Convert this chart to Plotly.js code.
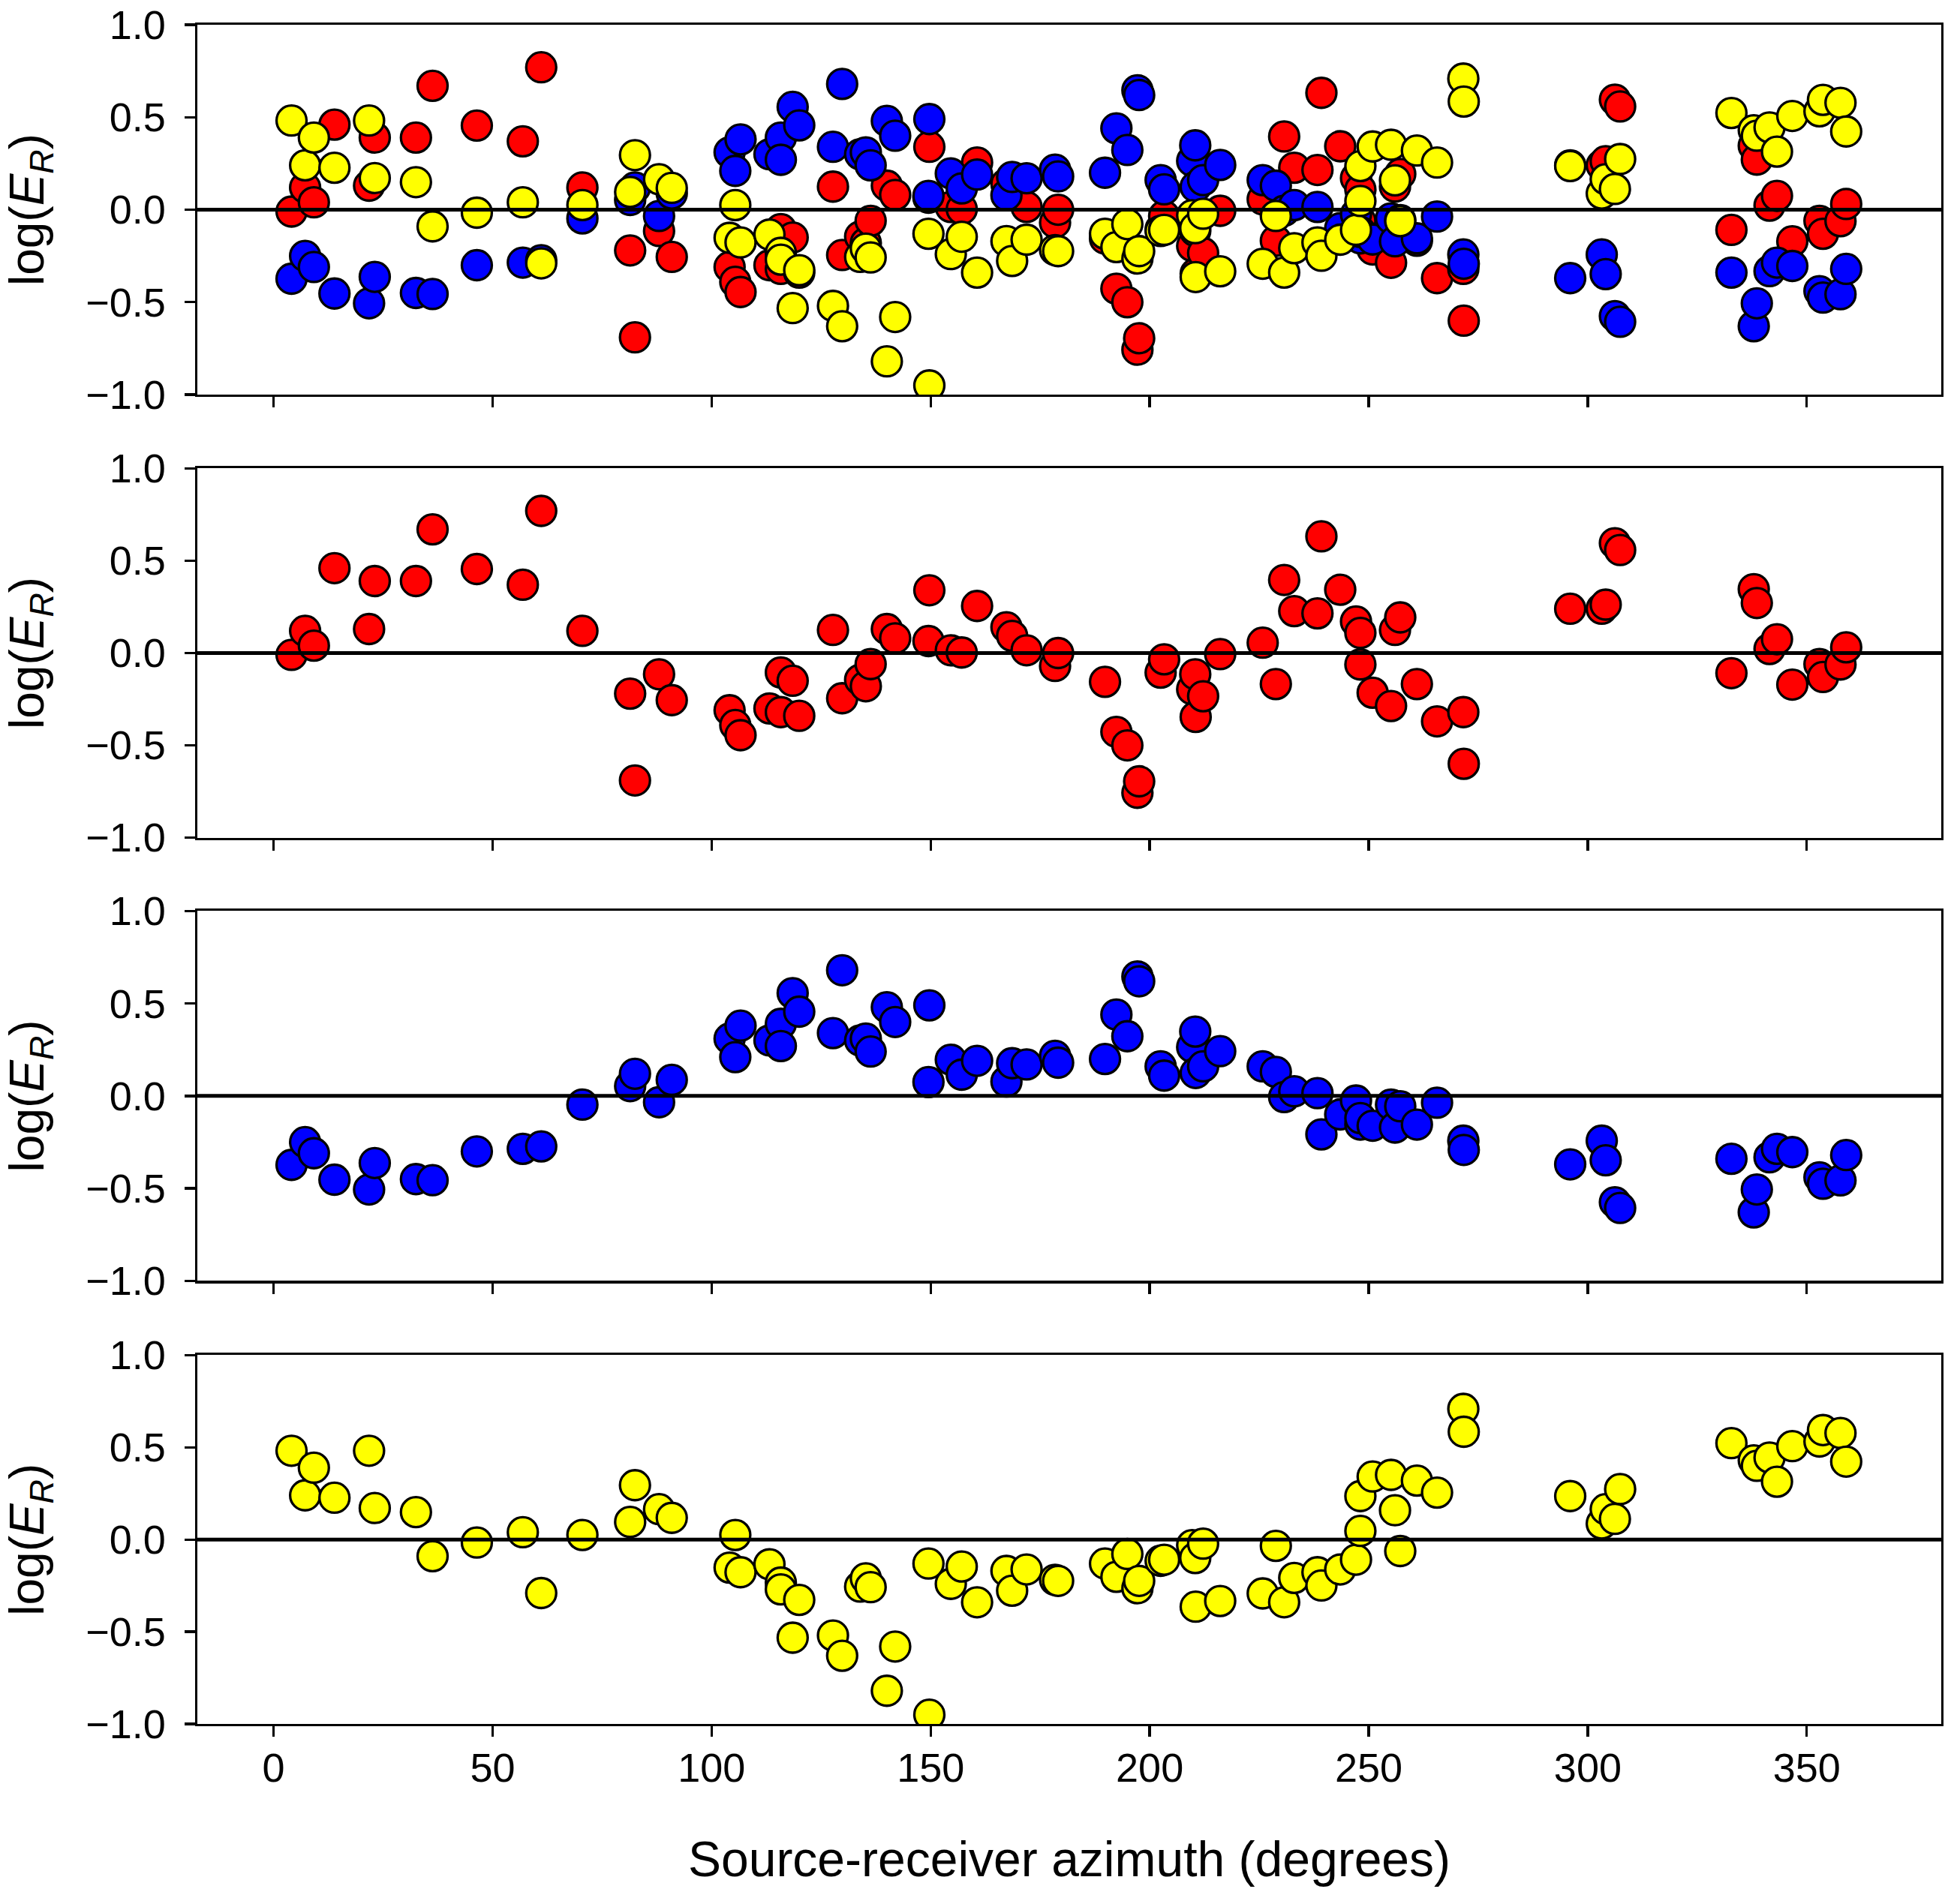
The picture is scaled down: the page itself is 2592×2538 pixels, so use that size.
<!DOCTYPE html>
<html>
<head>
<meta charset="utf-8">
<script src="https://cdn.plot.ly/plotly-3.0.1.min.js"></script>
<style>body{margin:0;background:#fff;}</style>
</head>
<body>
<div id="chart" style="width:2592px;height:2538px;"></div>
<script>
// source-receiver azimuth of each station (degrees)
var azimuth = [4.1, 7.2, 9.2, 13.9, 21.8, 23.1, 32.5, 36.3, 46.4, 56.9,
  61.1, 70.5, 81.4, 82.5, 88.0, 90.9, 104.1, 105.4, 106.6, 113.2,
  115.8, 115.8, 118.5, 120.0, 127.7, 129.8, 133.9, 135.2, 136.3, 140.0,
  141.9, 149.5, 149.7, 154.6, 157.1, 160.6, 167.3, 168.6, 171.9, 178.4,
  179.1, 189.8, 192.4, 194.9, 197.2, 197.6, 202.5, 203.3, 209.7, 210.4,
  210.5, 212.2, 216.1, 225.8, 228.8, 230.7, 233.0, 238.3, 239.2, 243.5,
  247.1, 248.1, 248.1, 250.9, 255.1, 256.0, 257.2, 261.0, 265.6, 271.6,
  271.7, 296.0, 303.2, 304.1, 306.2, 307.4, 332.8, 337.9, 338.6, 341.5,
  343.2, 346.7, 352.9, 353.7, 357.7, 359.0];

// log(E_R) per station, one array per group
var logER_red = [-0.01, 0.12, 0.04, 0.46, 0.13, 0.39, 0.39, 0.67, 0.455, 0.37,
  0.77, 0.12, -0.22, -0.69, -0.115, -0.255, -0.31, -0.39, -0.445, -0.30,
  -0.105, -0.32, -0.15, -0.34, 0.125, -0.245, -0.145, -0.18, -0.06, 0.13,
  0.08, 0.065, 0.34, 0.015, 0.003, 0.255, 0.14, 0.093, 0.015, -0.07,
  0.0, -0.156, -0.427, -0.50, -0.757, -0.695, -0.106, -0.034, -0.196, -0.115,
  -0.346, -0.234, -0.006, 0.056, -0.168, 0.396, 0.227, 0.215, 0.632, 0.343,
  0.171, 0.109, -0.062, -0.215, -0.287, 0.125, 0.193, -0.168, -0.37, -0.32,
  -0.60, 0.24, 0.24, 0.262, 0.595, 0.558, -0.109, 0.346, 0.271, 0.022,
  0.075, -0.171, -0.06, -0.13, -0.062, 0.031];

var logER_blue = [-0.373, -0.25, -0.31, -0.453, -0.506, -0.363, -0.45, -0.456, -0.30, -0.286,
  -0.273, -0.047, 0.053, 0.12, -0.034, 0.087, 0.31, 0.21, 0.38, 0.30,
  0.39, 0.27, 0.556, 0.456, 0.34, 0.68, 0.30, 0.31, 0.24, 0.48,
  0.40, 0.075, 0.49, 0.196, 0.115, 0.19, 0.078, 0.177, 0.17, 0.217,
  0.18, 0.20, 0.44, 0.323, 0.646, 0.62, 0.16, 0.11, 0.264, 0.348,
  0.124, 0.16, 0.242, 0.16, 0.13, -0.006, 0.025, 0.015, -0.208, -0.10,
  -0.025, -0.155, -0.12, -0.161, -0.047, -0.171, -0.056, -0.155, -0.037, -0.242,
  -0.292, -0.37, -0.242, -0.348, -0.575, -0.606, -0.34, -0.63, -0.506, -0.332,
  -0.286, -0.304, -0.44, -0.475, -0.457, -0.32];

var logER_yellow = [0.482, 0.24, 0.39, 0.227, 0.482, 0.171, 0.149, -0.09, -0.016, 0.04,
  -0.29, 0.025, 0.096, 0.295, 0.165, 0.118, -0.152, 0.025, -0.177, -0.134,
  -0.233, -0.27, -0.532, -0.327, -0.52, -0.63, -0.255, -0.21, -0.258, -0.82,
  -0.58, -0.13, -0.95, -0.24, -0.146, -0.34, -0.17, -0.277, -0.162, -0.218,
  -0.224, -0.13, -0.202, -0.078, -0.264, -0.224, -0.115, -0.109, -0.03, -0.10,
  -0.364, -0.022, -0.333, -0.292, -0.034, -0.34, -0.208, -0.177, -0.249, -0.162,
  -0.109, 0.047, 0.236, 0.342, 0.351, 0.159, -0.062, 0.32, 0.255, 0.709,
  0.585, 0.236, 0.087, 0.165, 0.112, 0.274, 0.523, 0.43, 0.40, 0.445,
  0.314, 0.507, 0.532, 0.594, 0.578, 0.423];

var xTicks = [0, 50, 100, 150, 200, 250, 300, 350];
var yTicks = [-1, -0.5, 0, 0.5, 1];

var fontFamily = "Liberation Sans, Arial, Helvetica, sans-serif";

function dots(y, color, panel) {
  return {
    x: azimuth, y: y,
    xaxis: "x" + panel, yaxis: "y" + panel,
    type: "scatter", mode: "markers",
    marker: {color: color, size: 40, line: {color: "#000", width: 3.3}},
    hoverinfo: "x+y", showlegend: false
  };
}

var data = [
  dots(logER_red, "#ff0000", 1),
  dots(logER_blue, "#0000ff", 1),
  dots(logER_yellow, "#ffff00", 1),
  dots(logER_red, "#ff0000", 2),
  dots(logER_blue, "#0000ff", 3),
  dots(logER_yellow, "#ffff00", 4)
];

var domains = [[0.7823, 1.0], [0.5216, 0.7389], [0.2608, 0.4784], [0, 0.2170]];

var layout = {
  width: 2592, height: 2538,
  margin: {l: 263, r: 5, t: 33, b: 240},
  paper_bgcolor: "#fff", plot_bgcolor: "#fff",
  font: {family: fontFamily, color: "#000", size: 54},
  showlegend: false,
  shapes: []
};

for (var i = 1; i <= 4; i++) {
  var xa = {
    domain: [0, 1], anchor: "y" + i,
    range: [-17.4, 380.7], tickvals: xTicks,
    ticks: "outside", ticklen: 14, tickwidth: 3.3, tickcolor: "#000",
    showline: true, linecolor: "#000", linewidth: 3.3, mirror: true,
    showgrid: false, zeroline: false,
    showticklabels: i == 4,
    tickfont: {size: 54}, ticklabelstandoff: -5
  };
  if (i > 1) xa.matches = "x";
  if (i == 4) xa.title = {text: "Source-receiver azimuth (degrees)", font: {size: 66}, standoff: 70};
  var ya = {
    domain: domains[i - 1], anchor: "x" + i,
    range: [-1, 1], tickvals: yTicks, tickformat: ".1f",
    ticks: "outside", ticklen: 14, tickwidth: 3.3, tickcolor: "#000",
    showline: true, linecolor: "#000", linewidth: 3.3, mirror: true,
    showgrid: false, zeroline: false,
    tickfont: {size: 54}, ticklabelstandoff: 14,
    title: {text: "log(<i>E</i><sub><i>R</i></sub>)", font: {size: 64}, standoff: 36}
  };
  layout[i == 1 ? "xaxis" : "xaxis" + i] = xa;
  layout[i == 1 ? "yaxis" : "yaxis" + i] = ya;
  // zero reference line, drawn over the dots
  layout.shapes.push({
    type: "line", layer: "above",
    xref: "x" + i + " domain", yref: "y" + i,
    x0: 0, x1: 1, y0: 0, y1: 0,
    line: {color: "#000", width: 5}
  });
}

Plotly.newPlot("chart", data, layout, {staticPlot: true});
</script>
</body>
</html>
